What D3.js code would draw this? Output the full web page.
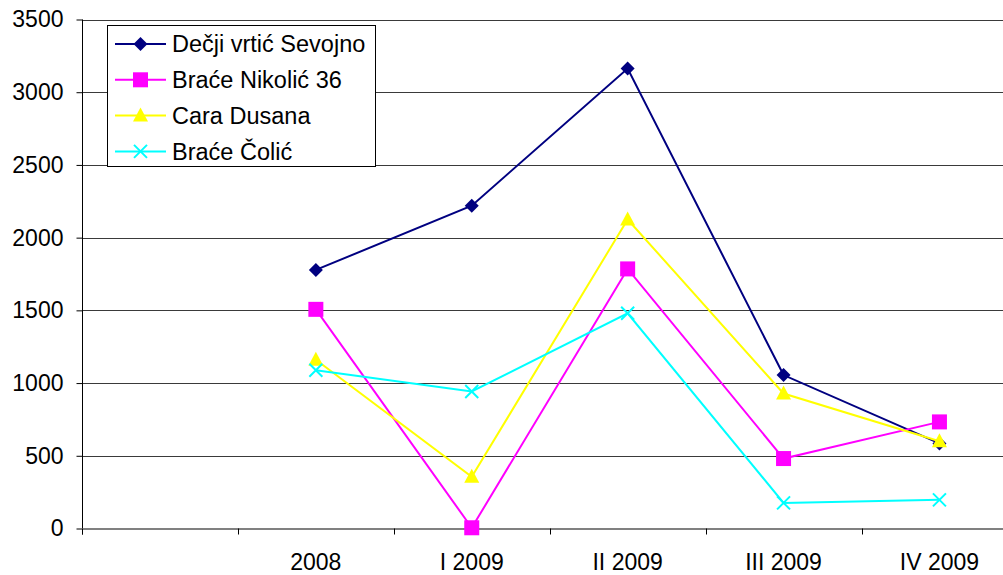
<!DOCTYPE html>
<html>
<head>
<meta charset="utf-8">
<script src="https://cdn.jsdelivr.net/npm/d3@7"></script>
<style>
  body { margin: 0; background: #fff; }
  svg { display: block; font-family: "Liberation Sans", Arial, sans-serif; }
  .grid line { stroke: #3a3a3a; stroke-width: 1; }
  .lbl { font-size: 23px; fill: #000; }
  .leg { font-size: 23.5px; fill: #000; }
</style>
</head>
<body>
<svg width="1003" height="575"></svg>
<script>
const categories = ["", "2008", "I 2009", "II 2009", "III 2009", "IV 2009"];
const seriesNames = ["Dečji vrtić Sevojno", "Braće Nikolić 36", "Cara Dusana", "Braće Čolić"];
const decji = [null, 1778, 2220, 3163, 1055, 585];
const nikolic = [null, 1507, 5, 1785, 481, 733];
const caraDusana = [null, 1160, 355, 2125, 928, 600];
const colic = [null, 1088, 942, 1480, 176, 197];
const yTicks = [0, 500, 1000, 1500, 2000, 2500, 3000, 3500];

const colors = ["#000080", "#ff00ff", "#ffff00", "#00ffff"];
const shapes = ["diamond", "square", "triangle", "cross"];
const values = [decji, nikolic, caraDusana, colic];

const svg = d3.select("svg");

const x = d3.scaleBand().domain(categories).range([82, 82 + 6 * 155.9]).padding(0);
const y = d3.scaleLinear().domain([0, 3500]).range([528.5, 19.5]);

// gridlines
svg.append("g")
  .attr("class", "grid")
  .selectAll("line")
  .data(yTicks.filter(d => d > 0))
  .enter()
  .append("line")
  .attr("x1", 82)
  .attr("x2", 1003)
  .attr("y1", d => Math.round(y(d)) + 0.5)
  .attr("y2", d => Math.round(y(d)) + 0.5);

// y axis
const yAxis = svg.append("g")
  .attr("transform", "translate(82.5,0)")
  .call(d3.axisLeft(y).tickValues(yTicks).tickSize(6).tickPadding(13).tickFormat(d3.format("d")));
yAxis.select(".domain").attr("stroke", "#000").attr("d", `M0,${y(3500)}V${y(0) + 6}`);
yAxis.selectAll(".tick line").attr("stroke", "#000");
yAxis.selectAll(".tick text")
  .attr("class", "lbl")
  .style("font-size", "23px")
  .attr("font-family", null);

// x axis baseline
svg.append("line")
  .attr("x1", 82)
  .attr("x2", 1003)
  .attr("y1", y(0) + 0.5)
  .attr("y2", y(0) + 0.5)
  .attr("stroke", "#808080")
  .attr("stroke-width", 2);

// x ticks at category boundaries
svg.append("g")
  .selectAll("line")
  .data(categories)
  .enter()
  .append("line")
  .attr("x1", d => Math.round(x(d)) + 0.5)
  .attr("x2", d => Math.round(x(d)) + 0.5)
  .attr("y1", y(0))
  .attr("y2", y(0) + 6)
  .attr("stroke", "#000");

svg.append("g")
  .selectAll("text")
  .data(categories)
  .enter()
  .append("text")
  .attr("class", "lbl")
  .attr("x", d => x(d) + x.bandwidth() / 2)
  .attr("y", 570)
  .attr("text-anchor", "middle")
  .text(d => d);

function marker(g, shape, color) {
  if (shape === "diamond") {
    g.append("path").attr("d", "M0,-7L7,0L0,7L-7,0Z").attr("fill", color);
  } else if (shape === "square") {
    g.append("rect").attr("x", -7.5).attr("y", -7.5).attr("width", 15).attr("height", 15).attr("fill", color);
  } else if (shape === "triangle") {
    g.append("path").attr("d", "M0,-8L7.5,6L-7.5,6Z").attr("fill", color);
  } else {
    g.append("path").attr("d", "M-6.5,-6.5L6.5,6.5M-6.5,6.5L6.5,-6.5")
      .attr("stroke", color).attr("stroke-width", 2).attr("fill", "none");
  }
}

const line = d3.line()
  .defined(d => d.v != null)
  .x(d => x(d.c) + x.bandwidth() / 2)
  .y(d => y(d.v));

values.forEach((vals, s) => {
  const pts = categories.map((c, i) => ({ c: c, v: vals[i] }));
  svg.append("path")
    .datum(pts)
    .attr("d", line)
    .attr("fill", "none")
    .attr("stroke", colors[s])
    .attr("stroke-width", 2);
  pts.filter(d => d.v != null).forEach(d => {
    const g = svg.append("g")
      .attr("transform", `translate(${x(d.c) + x.bandwidth() / 2},${y(d.v)})`);
    marker(g, shapes[s], colors[s]);
  });
});

// legend
const legend = svg.append("g");
legend.append("rect")
  .attr("x", 107.5)
  .attr("y", 25.5)
  .attr("width", 268)
  .attr("height", 141)
  .attr("fill", "#fff")
  .attr("stroke", "#000");

seriesNames.forEach((name, i) => {
  const ly = 44 + i * 35.8;
  legend.append("line")
    .attr("x1", 115)
    .attr("x2", 166)
    .attr("y1", ly)
    .attr("y2", ly)
    .attr("stroke", colors[i])
    .attr("stroke-width", 2);
  marker(legend.append("g").attr("transform", `translate(140.5,${ly})`), shapes[i], colors[i]);
  legend.append("text")
    .attr("class", "leg")
    .attr("x", 172)
    .attr("y", ly)
    .attr("dy", "0.35em")
    .text(name);
});
</script>
</body>
</html>
